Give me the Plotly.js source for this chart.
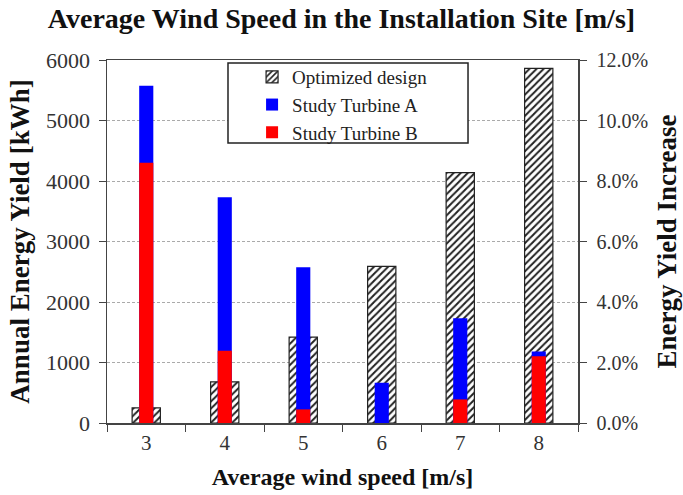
<!DOCTYPE html>
<html><head><meta charset="utf-8">
<script src="https://cdn.plot.ly/plotly-3.0.1.min.js"></script>
<style>html,body{margin:0;padding:0;background:#fff}</style>
</head><body>
<div id="chart" style="width:683px;height:495px"></div>
<script>
const windSpeeds = [3, 4, 5, 6, 7, 8];
const optimizedYield = [250, 680, 1420, 2590, 4140, 5860];
const turbineAIncrease = [0.1115, 0.0746, 0.0515, 0.0133, 0.0346, 0.0236];
const turbineBIncrease = [0.086, 0.0239, 0.0045, 0, 0.0078, 0.0221];
const serif = "Liberation Serif, Times New Roman, serif";

const traces = [
  {type:'bar', name:'Optimized design', x:windSpeeds, y:optimizedYield, width:0.36,
   marker:{color:'white', line:{color:'#222', width:1.2},
     pattern:{shape:'/', fgcolor:'#222', bgcolor:'white', size:5, solidity:0.4}}, yaxis:'y'},
  {type:'bar', name:'Study Turbine A', x:windSpeeds, y:turbineAIncrease, width:0.18,
   marker:{color:'#0000ff'}, yaxis:'y2'},
  {type:'bar', name:'Study Turbine B', x:windSpeeds, y:turbineBIncrease, width:0.18,
   marker:{color:'#ff0000'}, yaxis:'y2'}
];

const layout = {
  width:683, height:495,
  margin:{l:107, r:105, t:60, b:72},
  paper_bgcolor:'white', plot_bgcolor:'white',
  barmode:'overlay',
  font:{family:serif, color:'#222', size:18},
  title:{text:'<b>Average Wind Speed in the Installation Site [m/s]</b>', x:0.5, xanchor:'center', y:0.963, yanchor:'middle',
    font:{family:serif, size:28, color:'#111'}},
  showlegend:true,
  legend:{x:0.308, y:1.0055, xanchor:'left', yanchor:'top', bgcolor:'rgba(0,0,0,0)', borderwidth:0,
    font:{family:serif, size:19, color:'#222'}, tracegroupgap:0, itemwidth:30},
  shapes:[{type:'rect', xref:'paper', yref:'paper', x0:0.2569, x1:0.7665, y0:0.7713, y1:0.9917,
    fillcolor:'white', line:{color:'#222', width:1.5}, layer:'above'}],
  xaxis:{range:[2.5, 8.5], tickvals:windSpeeds, ticks:'', showgrid:false, zeroline:false,
    showline:true, linecolor:'#444', linewidth:1.5, mirror:true,
    minor:{tick0:2.5, dtick:1, ticks:'outside', ticklen:7, tickcolor:'#444', showgrid:false},
    tickfont:{family:serif, size:21, color:'#333'}, ticklabelstandoff:0,
    title:{text:'<b>Average wind speed [m/s]</b>', font:{family:serif, size:24, color:'#111'}, standoff:14}},
  yaxis:{range:[0, 6000], dtick:1000, ticks:'outside', ticklen:7, tickcolor:'#444',
    showgrid:true, gridcolor:'#aaa', griddash:'3px,2px', gridwidth:1, zeroline:false,
    showline:true, linecolor:'#444', linewidth:1.5,
    tickfont:{family:serif, size:22, color:'#333'}, ticklabelstandoff:4,
    title:{text:'<b>Annual Energy Yield [kWh]</b>', font:{family:serif, size:27, color:'#111'}, standoff:8}},
  yaxis2:{range:[0, 0.12], dtick:0.02, tickformat:'.1%', overlaying:'y', side:'right',
    ticks:'outside', ticklen:7, tickcolor:'#444', showgrid:false, zeroline:false,
    showline:true, linecolor:'#444', linewidth:1.5,
    tickfont:{family:serif, size:20, color:'#333'}, ticklabelstandoff:6,
    title:{text:'<b>Energy Yield Increase</b>', font:{family:serif, size:27, color:'#111'}, standoff:10}}
};

Plotly.newPlot('chart', traces, layout, {displayModeBar:false, staticPlot:true});
</script>
</body></html>
